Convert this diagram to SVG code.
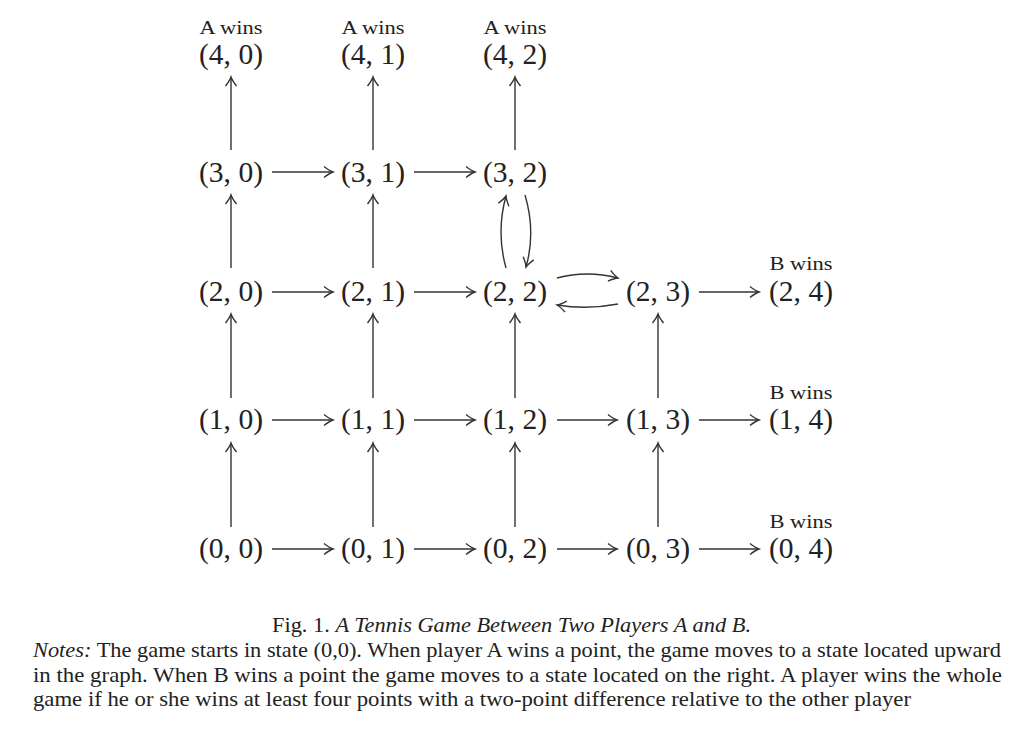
<svg xmlns="http://www.w3.org/2000/svg" width="1024" height="739" viewBox="0 0 1024 739">
<defs>
<style>
.n{font-family:"Liberation Serif","DejaVu Serif",serif;font-size:30px;fill:#222;text-anchor:middle}
.w{font-family:"Liberation Serif","DejaVu Serif",serif;font-size:19px;fill:#222;text-anchor:middle}
.c{font-family:"Liberation Serif","DejaVu Serif",serif;font-size:22px;fill:#222}
.e{stroke:#333;stroke-width:1.4;fill:none;marker-end:url(#ah)}
</style>
<marker id="ah" markerUnits="userSpaceOnUse" markerWidth="16" markerHeight="16" viewBox="-12 -8 14 16" refX="0" refY="0" orient="auto">
<path d="M-9,-5.5 Q-3.5,-1.2 0,0 Q-3.5,1.2 -9,5.5" stroke="#333" stroke-width="1.4" fill="none"/>
</marker>
</defs>
<rect width="1024" height="739" fill="#fff"/>
<g id="connectors">
<path class="e" d="M231,527 V443"/>
<path class="e" d="M231,398 V314"/>
<path class="e" d="M231,268 V195"/>
<path class="e" d="M231,150 V77"/>
<path class="e" d="M373,527 V443"/>
<path class="e" d="M373,398 V314"/>
<path class="e" d="M373,268 V195"/>
<path class="e" d="M373,150 V77"/>
<path class="e" d="M515,527 V443"/>
<path class="e" d="M515,398 V314"/>
<path class="e" d="M515,150 V77"/>
<path class="e" d="M506,268 Q496,232 506,196"/>
<path class="e" d="M525,195 Q536,232 526,267"/>
<path class="e" d="M658,527 V443"/>
<path class="e" d="M658,398 V314"/>
<path class="e" d="M272,172 H333"/>
<path class="e" d="M414,172 H475"/>
<path class="e" d="M272,292 H333"/>
<path class="e" d="M414,292 H475"/>
<path class="e" d="M557,278 Q587,270 618,278"/>
<path class="e" d="M618,304 Q587,310 557,305"/>
<path class="e" d="M699,292 H759"/>
<path class="e" d="M272,420 H333"/>
<path class="e" d="M414,420 H475"/>
<path class="e" d="M557,420 H617"/>
<path class="e" d="M699,420 H759"/>
<path class="e" d="M272,549 H333"/>
<path class="e" d="M414,549 H475"/>
<path class="e" d="M557,549 H617"/>
<path class="e" d="M699,549 H759"/>
</g>
<g id="n40"><text class="w" x="231" y="34" textLength="63" lengthAdjust="spacingAndGlyphs">A wins</text><text class="n" x="231" y="64" textLength="64" lengthAdjust="spacingAndGlyphs">(4, 0)</text></g>
<g id="n41"><text class="w" x="373" y="34" textLength="63" lengthAdjust="spacingAndGlyphs">A wins</text><text class="n" x="373" y="64" textLength="64" lengthAdjust="spacingAndGlyphs">(4, 1)</text></g>
<g id="n42"><text class="w" x="515" y="34" textLength="63" lengthAdjust="spacingAndGlyphs">A wins</text><text class="n" x="515" y="64" textLength="64" lengthAdjust="spacingAndGlyphs">(4, 2)</text></g>
<g id="n30"><text class="n" x="231" y="182" textLength="64" lengthAdjust="spacingAndGlyphs">(3, 0)</text></g>
<g id="n31"><text class="n" x="373" y="182" textLength="64" lengthAdjust="spacingAndGlyphs">(3, 1)</text></g>
<g id="n32"><text class="n" x="515" y="182" textLength="64" lengthAdjust="spacingAndGlyphs">(3, 2)</text></g>
<g id="n20"><text class="n" x="231" y="301" textLength="64" lengthAdjust="spacingAndGlyphs">(2, 0)</text></g>
<g id="n21"><text class="n" x="373" y="301" textLength="64" lengthAdjust="spacingAndGlyphs">(2, 1)</text></g>
<g id="n22"><text class="n" x="515" y="301" textLength="64" lengthAdjust="spacingAndGlyphs">(2, 2)</text></g>
<g id="n23"><text class="n" x="658" y="301" textLength="64" lengthAdjust="spacingAndGlyphs">(2, 3)</text></g>
<g id="n24"><text class="w" x="801" y="270" textLength="63" lengthAdjust="spacingAndGlyphs">B wins</text><text class="n" x="801" y="301" textLength="64" lengthAdjust="spacingAndGlyphs">(2, 4)</text></g>
<g id="n10"><text class="n" x="231" y="429" textLength="64" lengthAdjust="spacingAndGlyphs">(1, 0)</text></g>
<g id="n11"><text class="n" x="373" y="429" textLength="64" lengthAdjust="spacingAndGlyphs">(1, 1)</text></g>
<g id="n12"><text class="n" x="515" y="429" textLength="64" lengthAdjust="spacingAndGlyphs">(1, 2)</text></g>
<g id="n13"><text class="n" x="658" y="429" textLength="64" lengthAdjust="spacingAndGlyphs">(1, 3)</text></g>
<g id="n14"><text class="w" x="801" y="399" textLength="63" lengthAdjust="spacingAndGlyphs">B wins</text><text class="n" x="801" y="429" textLength="64" lengthAdjust="spacingAndGlyphs">(1, 4)</text></g>
<g id="n00"><text class="n" x="231" y="558" textLength="64" lengthAdjust="spacingAndGlyphs">(0, 0)</text></g>
<g id="n01"><text class="n" x="373" y="558" textLength="64" lengthAdjust="spacingAndGlyphs">(0, 1)</text></g>
<g id="n02"><text class="n" x="515" y="558" textLength="64" lengthAdjust="spacingAndGlyphs">(0, 2)</text></g>
<g id="n03"><text class="n" x="658" y="558" textLength="64" lengthAdjust="spacingAndGlyphs">(0, 3)</text></g>
<g id="n04"><text class="w" x="801" y="528" textLength="63" lengthAdjust="spacingAndGlyphs">B wins</text><text class="n" x="801" y="558" textLength="64" lengthAdjust="spacingAndGlyphs">(0, 4)</text></g>
<g id="caption">
<text class="c" x="272" y="632" textLength="479" lengthAdjust="spacingAndGlyphs">Fig. 1. <tspan font-style="italic">A Tennis Game Between Two Players A and B.</tspan></text>
<text class="c" x="33" y="657" textLength="968" lengthAdjust="spacingAndGlyphs"><tspan font-style="italic">Notes:</tspan> The game starts in state (0,0). When player A wins a point, the game moves to a state located upward</text>
<text class="c" x="33" y="682" textLength="969" lengthAdjust="spacingAndGlyphs">in the graph. When B wins a point the game moves to a state located on the right. A player wins the whole</text>
<text class="c" x="33" y="706" textLength="878" lengthAdjust="spacingAndGlyphs">game if he or she wins at least four points with a two-point difference relative to the other player</text>
</g>
</svg>
